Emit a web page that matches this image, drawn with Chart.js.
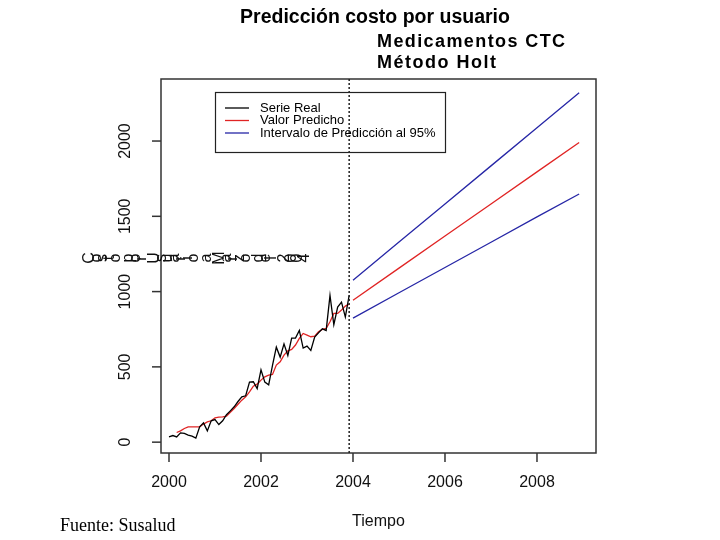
<!DOCTYPE html>
<html>
<head>
<meta charset="utf-8">
<script src="https://cdn.jsdelivr.net/npm/chart.js@4.4.1/dist/chart.umd.min.js"></script>
<style>
  html, body { margin: 0; padding: 0; background: #fff; }
  #wrap { width: 720px; height: 540px; position: relative; }
</style>
</head>
<body>
<div id="wrap"><canvas id="holtChart"></canvas></div>
<script>
// Serie mensual observada, ene 2000 - dic 2003
const inicioSerie = 2000;
const serieReal = [35, 44, 35, 62, 58, 47, 40, 27, 102, 128, 75, 142,
                   150, 117, 142, 182, 208, 235, 270, 301, 308, 399, 401, 356,
                   480, 399, 381, 510, 631, 565, 653, 576, 691, 691, 742, 625,
                   638, 609, 698, 726, 753, 742, 975, 780, 897, 930, 831, 975];
// Ajuste Holt (empieza en el tercer mes)
const valorAjustado = [null, null, 64, 75, 91, 102, 102, 102, 102, 120, 135, 142,
                       162, 166, 168, 173, 199, 224, 252, 279, 301, 334, 372, 385,
                       412, 434, 445, 450, 512, 534, 578, 607, 616, 645, 689, 722,
                       711, 700, 704, 733, 749, 755, 800, 855, 855, 877, 904, 917];
// Pronóstico 2004 - 2008
const tiempoPronostico = [2004, 2005, 2006, 2007, 2008, 2008.917];
const valorPredicho = [943, 1156, 1369, 1582, 1795, 1990];
const limiteSuperior = [1076, 1329, 1582, 1835, 2088, 2320];
const limiteInferior = [824, 992, 1160, 1328, 1496, 1648];
const corteSerie = 2003.917;

const xTicks = [2000, 2002, 2004, 2006, 2008];
const yTicks = [0, 500, 1000, 1500, 2000];

const titulo = ['Predicción costo por usuario', 'Medicamentos CTC', 'Método Holt'];
const ejeY = 'Costo por Usuario a Marzo del 2004';
const leyenda = [
  { label: 'Serie Real', color: '#000000' },
  { label: 'Valor Predicho', color: '#e02424' },
  { label: 'Intervalo de Predicción al 95%', color: '#2626a6' }
];

function puntos(xs, ys) {
  return ys.map((v, i) => ({ x: xs[i], y: v }));
}
const mesesSerie = serieReal.map((_, i) => inicioSerie + i / 12);

const FONT = '"Liberation Sans", Arial, sans-serif';
const AXIS = '#333333';

const decoracion = {
  id: 'decoracion',
  afterDatasetsDraw(chart) {
    const ctx = chart.ctx;
    const a = chart.chartArea;
    const xs = chart.scales.x, ys = chart.scales.y;
    ctx.save();

    // caja del gráfico
    ctx.strokeStyle = AXIS;
    ctx.lineWidth = 1.5;
    ctx.strokeRect(a.left, a.top, a.right - a.left, a.bottom - a.top);

    // marcas y etiquetas eje x
    ctx.fillStyle = '#111';
    ctx.font = '16px ' + FONT;
    ctx.textAlign = 'center';
    ctx.textBaseline = 'middle';
    xTicks.forEach(t => {
      const px = xs.getPixelForValue(t);
      ctx.beginPath();
      ctx.moveTo(px, a.bottom);
      ctx.lineTo(px, a.bottom + 9);
      ctx.stroke();
      ctx.fillText(String(t), px, a.bottom + 30);
    });
    ctx.fillText('Tiempo', (a.left + a.right) / 2, 522);

    // marcas y etiquetas eje y (rotadas)
    yTicks.forEach(t => {
      const py = ys.getPixelForValue(t);
      ctx.beginPath();
      ctx.moveTo(a.left, py);
      ctx.lineTo(a.left - 9, py);
      ctx.stroke();
      ctx.save();
      ctx.translate(a.left - 35, py);
      ctx.rotate(-Math.PI / 2);
      ctx.fillText(String(t), 0, 0);
      ctx.restore();
    });

    // etiqueta eje y (caracteres girados uno a uno)
    ctx.font = '16px ' + FONT;
    [...ejeY].forEach((ch, i) => {
      ctx.save();
      ctx.translate(90 + i * 6.5, 258);
      ctx.rotate(-Math.PI / 2);
      ctx.fillText(ch, 0, 0);
      ctx.restore();
    });

    // leyenda
    ctx.lineWidth = 1.2;
    ctx.strokeStyle = '#222';
    ctx.strokeRect(215.5, 92.5, 230, 60);
    ctx.font = '13px ' + FONT;
    ctx.textAlign = 'left';
    leyenda.forEach((it, i) => {
      const y = 108 + i * 12.5;
      ctx.strokeStyle = it.color;
      ctx.lineWidth = 1.3;
      ctx.beginPath();
      ctx.moveTo(225, y);
      ctx.lineTo(249, y);
      ctx.stroke();
      ctx.fillStyle = '#000';
      ctx.fillText(it.label, 260, y);
    });

    // línea punteada del corte
    const cx = xs.getPixelForValue(corteSerie);
    ctx.strokeStyle = '#222';
    ctx.lineWidth = 1.5;
    ctx.setLineDash([2, 2]);
    ctx.beginPath();
    ctx.moveTo(cx, a.top);
    ctx.lineTo(cx, a.bottom);
    ctx.stroke();
    ctx.setLineDash([]);

    // título
    ctx.fillStyle = '#000';
    ctx.font = 'bold 19.5px ' + FONT;
    ctx.textAlign = 'center';
    ctx.fillText(titulo[0], 375, 18);
    ctx.font = 'bold 18px ' + FONT;
    ctx.textAlign = 'left';
    ctx.letterSpacing = '1.4px';
    ctx.fillText(titulo[1], 377, 42);
    ctx.letterSpacing = '1.5px';
    ctx.fillText(titulo[2], 377, 63);
    ctx.letterSpacing = '0px';

    // fuente
    ctx.font = '18px "Liberation Serif", "Times New Roman", serif';
    ctx.fillText('Fuente: Susalud', 60, 526);

    ctx.restore();
  }
};

const lineaBase = { showLine: true, pointRadius: 0, borderWidth: 1.3, fill: false, tension: 0 };

new Chart(document.getElementById('holtChart'), {
  type: 'scatter',
  data: {
    datasets: [
      Object.assign({ label: 'Serie Real', data: puntos(mesesSerie, serieReal), borderColor: '#000000' }, lineaBase),
      Object.assign({ label: 'Valor Ajustado', data: puntos(mesesSerie, valorAjustado), borderColor: '#e02424' }, lineaBase),
      Object.assign({ label: 'Valor Predicho', data: puntos(tiempoPronostico, valorPredicho), borderColor: '#e02424' }, lineaBase),
      Object.assign({ label: 'Límite Superior', data: puntos(tiempoPronostico, limiteSuperior), borderColor: '#2626a6' }, lineaBase),
      Object.assign({ label: 'Límite Inferior', data: puntos(tiempoPronostico, limiteInferior), borderColor: '#2626a6' }, lineaBase)
    ]
  },
  options: {
    responsive: true,
    maintainAspectRatio: false,
    animation: false,
    layout: { padding: { left: 161, right: 124, top: 79, bottom: 87 } },
    plugins: {
      legend: { display: false },
      tooltip: { enabled: false }
    },
    scales: {
      x: { type: 'linear', min: 1999.826, max: 2009.283, display: false },
      y: { type: 'linear', min: -72, max: 2412, display: false }
    }
  },
  plugins: [decoracion]
});
</script>
</body>
</html>
